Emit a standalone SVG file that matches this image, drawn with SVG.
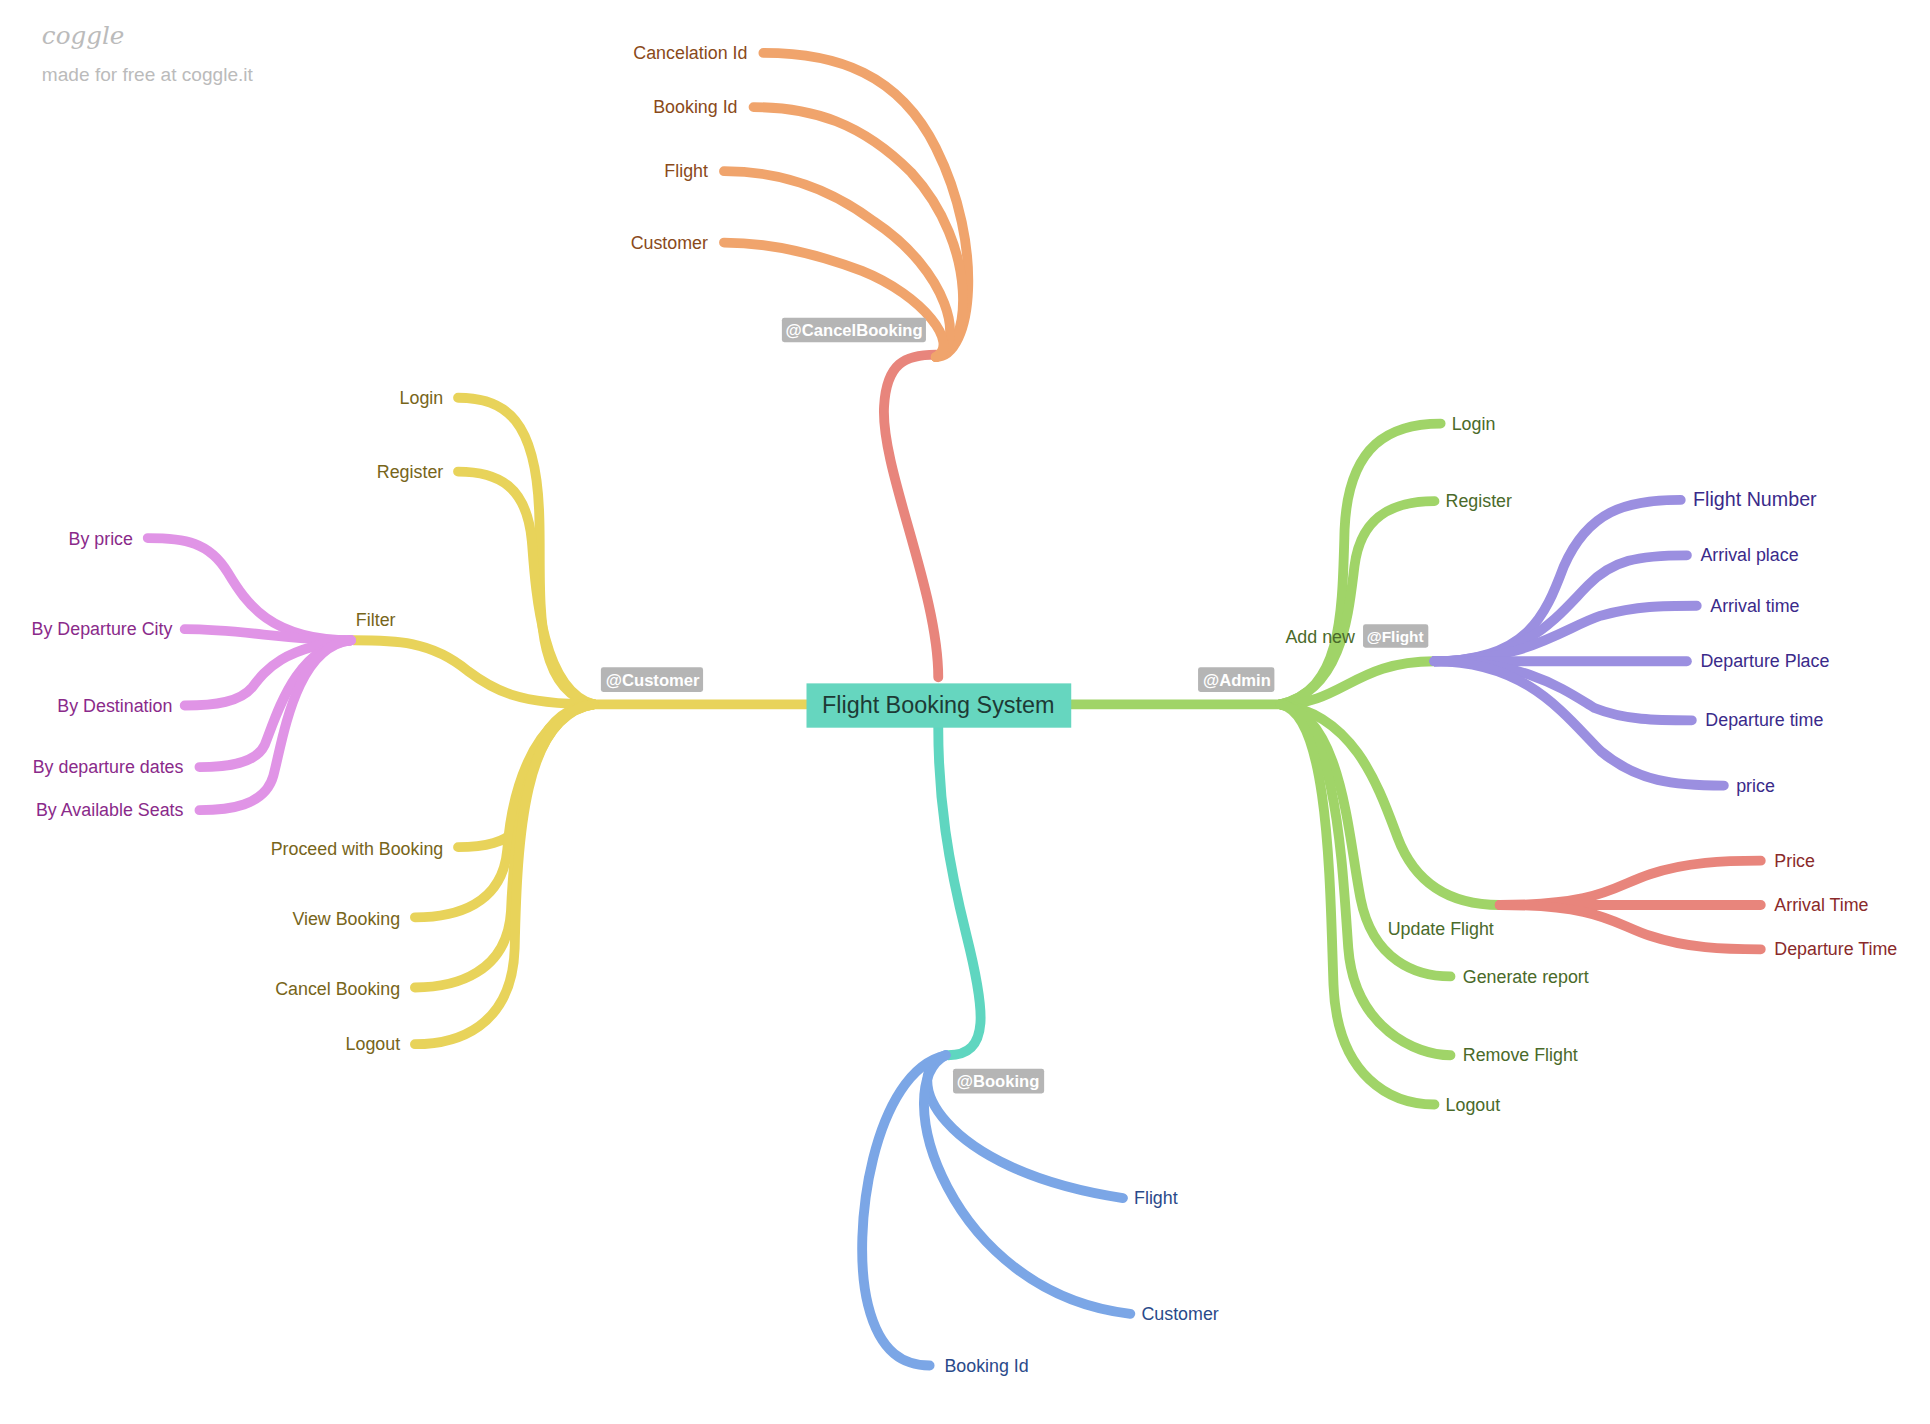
<svg xmlns="http://www.w3.org/2000/svg" width="1930" height="1424" viewBox="0 0 1930 1424">
<style>
path{fill:none;stroke-width:8;stroke-linecap:round}
.o{stroke:#f0a46c}.r{stroke:#e8857c}.y{stroke:#e8d35a}.g{stroke:#a0d468}.p{stroke:#9b8fe0}.k{stroke:#e094e6}.b{stroke:#7ba6e6}.t{stroke:#5fd6c0}
text{font-family:"Liberation Sans",Arial,sans-serif;font-size:14.5px}
.to{fill:#8a4a1a}.ty{fill:#77651a}.tg{fill:#4a6a2a}.tp{fill:#3a2a8a}.tk{fill:#8a2a8a}.tb{fill:#2a4a8a}.tr{fill:#8a2a2a}
.e{text-anchor:end}
.tag rect{fill:#b5b5b5}.tag text{fill:#fff;font-weight:bold;font-size:13.5px}
</style>
<rect width="1930" height="1424" fill="#fff"/>
<g transform="scale(1.2313)">
<g id="connectors">
<path class="r" d="M762,550 C762,480 715,380 718,330 C720,295 735,288 760,288"/>
<path class="o" d="M760,290 C790,290 800,200 760,120 C730,60 680,43 620,43"/>
<path class="o" d="M760,290 C790,285 795,200 740,140 C700,100 660,87 612,87"/>
<path class="o" d="M760,290 C785,280 770,220 710,180 C670,150 630,139 588,139"/>
<path class="o" d="M760,290 C780,280 750,240 700,220 C660,205 620,197 588,197"/>
<path class="y" d="M655,572 L482,572"/>
<path class="y" d="M482,572 C430,560 440,480 438,420 C436,340 410,323 372,323"/>
<path class="y" d="M482,572 C440,560 435,480 432,440 C428,395 405,383 372,383"/>
<path class="y" d="M482,572 C420,572 400,560 380,545 C350,520 320,520 287,520"/>
<path class="y" d="M482,572 C430,575 425,650 420,670 C415,685 390,688 372,688"/>
<path class="y" d="M482,572 C430,580 415,650 412,690 C408,735 370,745 337,745"/>
<path class="y" d="M482,572 C430,580 418,670 415,740 C412,790 370,802 337,802"/>
<path class="y" d="M482,572 C425,580 420,680 418,770 C416,835 370,848 337,848"/>
<path class="k" d="M285,520 C220,520 200,490 185,465 C170,440 150,437 120,437"/>
<path class="k" d="M285,520 C230,520 200,511 150,511"/>
<path class="k" d="M285,520 C230,525 215,545 205,558 C195,570 175,573 150,573"/>
<path class="k" d="M285,520 C240,525 225,580 215,605 C208,620 185,623 162,623"/>
<path class="k" d="M285,520 C240,525 230,600 222,630 C215,655 185,658 162,658"/>
<path class="g" d="M870,572 L1040,572"/>
<path class="g" d="M1040,572 C1090,560 1090,500 1092,430 C1095,360 1130,344 1170,344"/>
<path class="g" d="M1040,572 C1090,560 1095,500 1100,460 C1105,420 1130,407 1165,407"/>
<path class="g" d="M1040,572 C1090,572 1100,537 1165,537"/>
<path class="g" d="M1040,572 C1100,580 1120,640 1135,680 C1150,720 1180,735 1218,735"/>
<path class="g" d="M1040,572 C1090,580 1095,680 1105,730 C1115,780 1150,793 1178,793"/>
<path class="g" d="M1040,572 C1085,580 1090,700 1095,770 C1100,835 1150,857 1178,857"/>
<path class="g" d="M1040,572 C1080,580 1080,720 1083,800 C1086,875 1130,897 1165,897"/>
<path class="p" d="M1165,537 C1240,537 1255,500 1270,460 C1290,415 1320,406 1365,406"/>
<path class="p" d="M1165,537 C1240,537 1265,500 1290,475 C1310,455 1330,451 1370,451"/>
<path class="p" d="M1165,537 C1240,537 1270,510 1300,500 C1330,492 1350,492 1378,492"/>
<path class="p" d="M1165,537 L1370,537"/>
<path class="p" d="M1165,537 C1240,537 1270,560 1295,575 C1320,585 1345,585 1374,585"/>
<path class="p" d="M1165,537 C1240,537 1270,580 1300,610 C1330,635 1360,638 1400,638"/>
<path class="r" d="M1218,735 C1300,735 1310,720 1340,710 C1370,700 1400,699 1430,699"/>
<path class="r" d="M1218,735 L1430,735"/>
<path class="r" d="M1218,735 C1300,735 1310,750 1340,760 C1370,770 1400,771 1430,771"/>
<path class="t" d="M762,590 C762,650 770,700 785,760 C800,820 805,857 770,857"/>
<path class="b" d="M768,857 C730,870 760,950 912,973"/>
<path class="b" d="M768,857 C720,880 770,1050 918,1067"/>
<path class="b" d="M768,857 C710,870 690,1000 705,1060 C715,1100 735,1109 755,1109"/>
</g>
<g id="logo">
<text x="34" y="36" style="font-family:'DejaVu Serif',serif;font-style:italic;font-size:20px;fill:#bbb">coggle</text>
<text x="34" y="66" style="font-size:15.5px;fill:#bbb">made for free at coggle.it</text>
</g>
<g id="center">
<rect x="655" y="555" width="215" height="36" fill="#66d6bf"/>
<text x="762" y="579" text-anchor="middle" style="font-size:19px;fill:#1d3a35">Flight Booking System</text>
</g>
<g id="tags" class="tag">
<rect x="635" y="258" width="117" height="20" rx="2"/><text x="638" y="273">@CancelBooking</text>
<rect x="488" y="542" width="83" height="20" rx="2"/><text x="492" y="557">@Customer</text>
<rect x="973" y="542" width="62" height="20" rx="2"/><text x="977" y="557">@Admin</text>
<rect x="1107" y="507" width="53" height="19" rx="2"/><text x="1110" y="521" style="font-size:12.5px">@Flight</text>
<rect x="774" y="868" width="74" height="20" rx="2"/><text x="777" y="883">@Booking</text>
</g>
<g id="cancel-leaves">
<text class="to e" x="607" y="48">Cancelation Id</text>
<text class="to e" x="599" y="92">Booking Id</text>
<text class="to e" x="575" y="144">Flight</text>
<text class="to e" x="575" y="202">Customer</text>
</g>
<g id="customer-leaves">
<text class="ty e" x="360" y="328">Login</text>
<text class="ty e" x="360" y="388">Register</text>
<text class="ty" x="289" y="508">Filter</text>
<text class="ty e" x="360" y="694">Proceed with Booking</text>
<text class="ty e" x="325" y="751">View Booking</text>
<text class="ty e" x="325" y="808">Cancel Booking</text>
<text class="ty e" x="325" y="853">Logout</text>
</g>
<g id="filter-leaves">
<text class="tk e" x="108" y="443">By price</text>
<text class="tk e" x="140" y="516">By Departure City</text>
<text class="tk e" x="140" y="578">By Destination</text>
<text class="tk e" x="149" y="628">By departure dates</text>
<text class="tk e" x="149" y="663">By Available Seats</text>
</g>
<g id="admin-leaves">
<text class="tg" x="1179" y="349">Login</text>
<text class="tg" x="1174" y="412">Register</text>
<text class="tg" x="1044" y="522">Add new</text>
<text class="tg" x="1127" y="759">Update Flight</text>
<text class="tg" x="1188" y="798">Generate report</text>
<text class="tg" x="1188" y="862">Remove Flight</text>
<text class="tg" x="1174" y="902">Logout</text>
</g>
<g id="flight-leaves">
<text class="tp" x="1375" y="411" style="font-size:16px">Flight Number</text>
<text class="tp" x="1381" y="456">Arrival place</text>
<text class="tp" x="1389" y="497">Arrival time</text>
<text class="tp" x="1381" y="542">Departure Place</text>
<text class="tp" x="1385" y="590">Departure time</text>
<text class="tp" x="1410" y="643">price</text>
</g>
<g id="update-leaves">
<text class="tr" x="1441" y="704">Price</text>
<text class="tr" x="1441" y="740">Arrival Time</text>
<text class="tr" x="1441" y="776">Departure Time</text>
</g>
<g id="booking-leaves">
<text class="tb" x="921" y="978">Flight</text>
<text class="tb" x="927" y="1072">Customer</text>
<text class="tb" x="767" y="1114">Booking Id</text>
</g>
</g>
</svg>
